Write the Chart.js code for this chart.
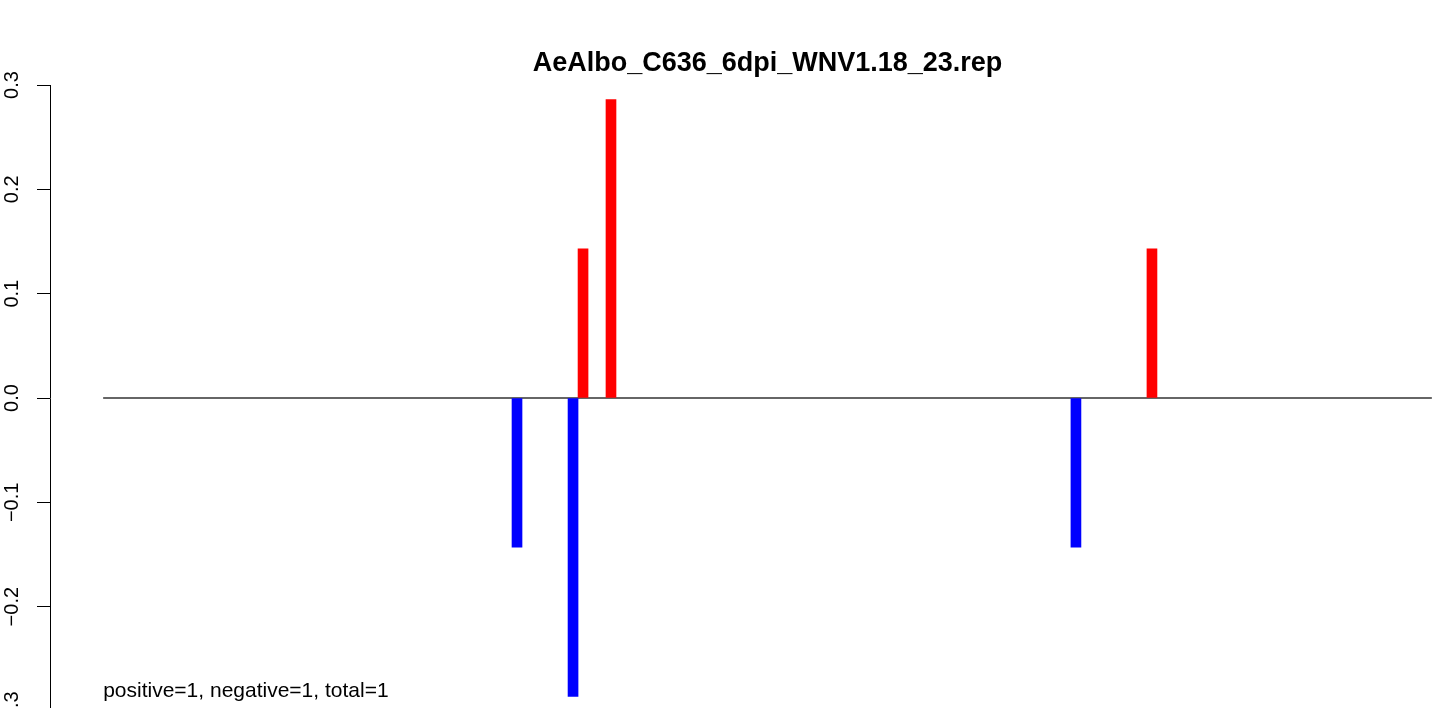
<!DOCTYPE html>
<html>
<head>
<meta charset="utf-8">
<script src="https://cdn.jsdelivr.net/npm/chart.js@4"></script>
<style>
  html, body { margin: 0; padding: 0; background: #fff; overflow: hidden; }
  canvas { display: block; }
</style>
</head>
<body>
<canvas id="myChart" width="1535" height="751"></canvas>
<script>
// data (positions along the WNV genome, 1..11029)
const seqLength = 11029;
const negPositions = [3436, 3901, 8075];
const negValues = [-0.143, -0.286, -0.143];
const posPositions = [3984, 4216, 8706];
const posValues = [0.143, 0.286, 0.143];
const yTicks = [-0.3, -0.2, -0.1, 0, 0.1, 0.2, 0.3];
const chartTitle = 'AeAlbo_C636_6dpi_WNV1.18_23.rep';
const footNote = 'positive=1, negative=1, total=1';

// x range padded 4% like R does
const pad = 0.04 * (seqLength - 1);

Chart.defaults.font.family = '"Liberation Sans", Arial, sans-serif';
Chart.defaults.color = '#000';

const toPoints = (xs, ys) => xs.map((x, i) => ({ x: x, y: ys[i] }));

// text at the bottom left, anchored at sequence start
const footNotePlugin = {
    id: 'footNote',
    afterDraw(chart) {
        const c = chart.ctx;
        const x = chart.scales.x.getPixelForValue(1);
        c.save();
        c.font = '21px "Liberation Sans", Arial, sans-serif';
        c.fillStyle = '#000';
        c.textBaseline = 'alphabetic';
        c.textAlign = 'left';
        c.fillText(footNote, x, 697);
        c.restore();
    }
};

const ctx = document.getElementById('myChart').getContext('2d');
const myChart = new Chart(ctx, {
    type: 'bar',
    data: {
        datasets: [
            {
                type: 'line',
                data: [{ x: 1, y: 0 }, { x: seqLength, y: 0 }],
                borderColor: '#333333',
                borderWidth: 1.5,
                pointRadius: 0,
                order: 2
            },
            {
                data: toPoints(negPositions, negValues),
                backgroundColor: '#0000ff',
                barThickness: 10,
                grouped: false,
                order: 1
            },
            {
                data: toPoints(posPositions, posValues),
                backgroundColor: '#ff0000',
                barThickness: 10,
                grouped: false,
                order: 1
            }
        ]
    },
    options: {
        responsive: false,
        devicePixelRatio: 1,
        animation: false,
        layout: { padding: { left: 0, right: 0, top: 0, bottom: 40 } },
        plugins: {
            legend: { display: false },
            tooltip: { enabled: false },
            title: {
                display: true,
                text: chartTitle,
                color: '#000',
                font: { size: 27, weight: 'bold' },
                padding: { top: 47.5, bottom: 5.1 }
            }
        },
        scales: {
            x: {
                type: 'linear',
                display: false,
                offset: false,
                min: 1 - pad,
                max: seqLength + pad
            },
            y: {
                min: -0.3,
                max: 0.3,
                afterFit: (s) => { s.width = 50; },
                afterBuildTicks: (s) => { s.ticks = yTicks.map(v => ({ value: v })); },
                grid: {
                    drawOnChartArea: false,
                    drawTicks: true,
                    tickLength: 13,
                    tickColor: '#000',
                    color: '#000'
                },
                border: { display: true, color: '#000', width: 1 },
                ticks: {
                    autoSkip: false,
                    minRotation: 90,
                    maxRotation: 90,
                    crossAlign: 'center',
                    padding: 5,
                    color: '#000',
                    font: { size: 20 },
                    callback: (v) => {
                        if (Math.abs(v) < 1e-9) return '0.0';
                        return v.toFixed(1).replace('-', '\u2212');
                    }
                }
            },
            // empty right margin so the title centres on the plot region
            yRight: {
                position: 'right',
                afterFit: (s) => { s.width = 50; },
                grid: { display: false, drawTicks: false },
                border: { display: false },
                ticks: { display: false }
            }
        }
    },
    plugins: [footNotePlugin]
});
</script>
</body>
</html>
